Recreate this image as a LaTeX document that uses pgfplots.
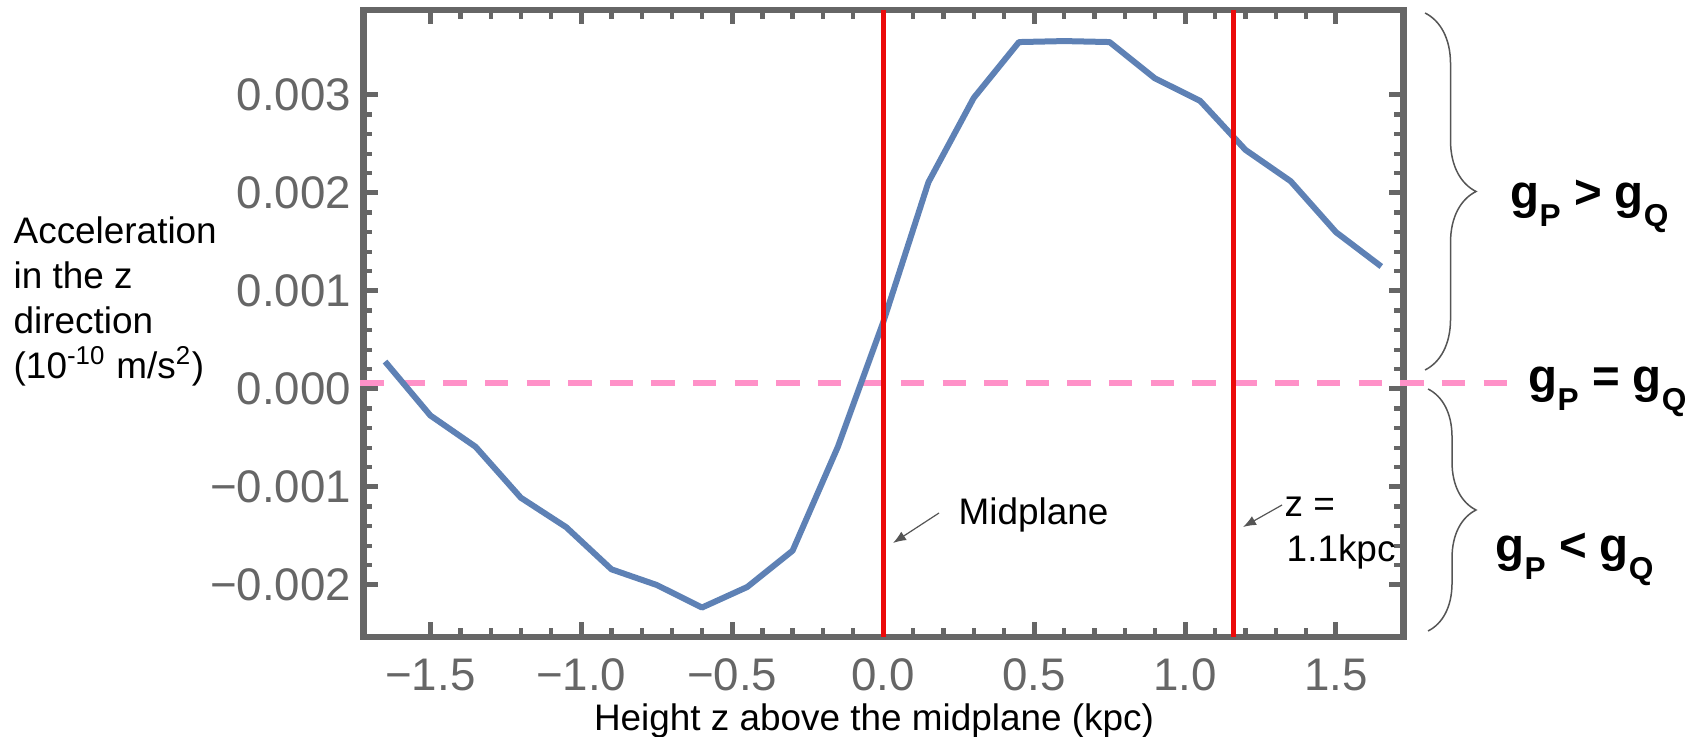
\documentclass[border=0pt]{standalone}
\usepackage{fontspec}
\setmainfont{Liberation Sans}
\usepackage{pgfplots}
\pgfplotsset{compat=1.18}
\usetikzlibrary{decorations.pathreplacing,arrows.meta}
\definecolor{framegray}{RGB}{102,102,102}
\definecolor{curveblue}{RGB}{94,129,181}
\definecolor{vred}{RGB}{235,10,10}
\definecolor{dpink}{RGB}{255,145,200}
\definecolor{bracegray}{RGB}{85,85,85}
\newcommand\gs[1]{g\raisebox{-1.8mm}{\fontsize{9}{9}\selectfont #1}}

\pgfplotstableread{
x y
-1.65 0.00028
-1.50 -0.00027
-1.35 -0.00059
-1.20 -0.00111
-1.05 -0.00141
-0.90 -0.00184
-0.75 -0.00200
-0.60 -0.00223
-0.45 -0.00202
-0.30 -0.00165
-0.15 -0.00059
0.00 0.00068
0.15 0.00211
0.30 0.00297
0.45 0.00354
0.60 0.00355
0.75 0.00354
0.90 0.00317
1.05 0.00294
1.20 0.00244
1.35 0.00212
1.50 0.00160
1.65 0.00125
}\curvedata

\begin{document}
\begin{tikzpicture}
\path[use as bounding box] (-36.33mm,-10mm) rectangle (133.47mm,63.7mm);
\begin{axis}[
  at={(0,0)}, anchor=south west, scale only axis,
  width=104mm, height=62.7mm,
  xmin=-1.722, xmax=1.723, ymin=-0.0025306, ymax=0.0038673,
  clip=false,
  axis line style={draw=framegray, line width=0.67mm},
  xtick={-1.5,-1,-0.5,0,0.5,1,1.5},
  xticklabels={−1.5,−1.0,−0.5,0.0,0.5,1.0,1.5},
  ytick={-0.002,-0.001,0,0.001,0.002,0.003},
  yticklabels={−0.002,−0.001,0.000,0.001,0.002,0.003},
  scaled y ticks=false, scaled x ticks=false,
  minor x tick num=4, minor y tick num=4,
  major tick length=1.45mm, minor tick length=0.9mm,
  major tick style={framegray, line width=0.5mm},
  minor tick style={framegray, line width=0.42mm},
  tick label style={font=\fontsize{13}{13}\selectfont, text=framegray, inner sep=0pt},
  xticklabel style={yshift=-2.1mm},
  yticklabel style={xshift=-1.15mm},
]
\addplot[dpink, line width=0.55mm, dash pattern=on 2.33mm off 1.83mm] coordinates {(-1.732,0.00006) (2.083,0.00006)};
\addplot[curveblue, line width=0.6mm, line join=round] table[x=x,y=y] {\curvedata};
\addplot[vred, line width=0.5mm] coordinates {(0,-0.0025306) (0,0.0038673)};
\addplot[vred, line width=0.5mm] coordinates {(1.16,-0.0025306) (1.16,0.0038673)};
\end{axis}
\begin{scope}[x=0.1mm, y=-0.1mm, shift={(-36.33mm,63.7mm)}]
  \node[anchor=north west, inner sep=0pt, align=left, font=\fontsize{10.5}{12.8}\selectfont] at (13,216)
    {Acceleration\\in the z\\direction\\(10\textsuperscript{-10} m/s\textsuperscript{2})};
  \node[anchor=base, inner sep=0pt, font=\fontsize{10.5}{12}\selectfont] at (874,730) {Height z above the midplane (kpc)};
  \node[anchor=base west, inner sep=0pt, font=\fontsize{10.5}{12}\selectfont] at (958,525) {Midplane};
  \draw[-{Latex[length=1.3mm,width=1mm]}, bracegray, line width=0.12mm] (939,513) -- (893,543);
  \node[anchor=base west, inner sep=0pt, font=\fontsize{10.5}{12}\selectfont] at (1284,517) {z =};
  \node[anchor=base west, inner sep=0pt, font=\fontsize{10.5}{12}\selectfont] at (1286,562) {1.1kpc};
  \draw[-{Latex[length=1.3mm,width=1mm]}, bracegray, line width=0.12mm] (1282,505) -- (1243,527);
  \draw[bracegray, line width=0.15mm, decorate, decoration={brace, amplitude=5.1mm}] (1425,13) -- (1425,370);
  \draw[bracegray, line width=0.15mm, decorate, decoration={brace, amplitude=4.8mm}] (1428,389) -- (1428,631);
  \node[anchor=base west, inner sep=0pt, font=\bfseries\fontsize{13.5}{14}\selectfont] at (1510,209) {\gs{P} > \gs{Q}};
  \node[anchor=base west, inner sep=0pt, font=\bfseries\fontsize{13.5}{14}\selectfont] at (1528,393) {\gs{P} = \gs{Q}};
  \node[anchor=base west, inner sep=0pt, font=\bfseries\fontsize{13.5}{14}\selectfont] at (1495,562) {\gs{P} < \gs{Q}};
\end{scope}
\end{tikzpicture}
\end{document}
